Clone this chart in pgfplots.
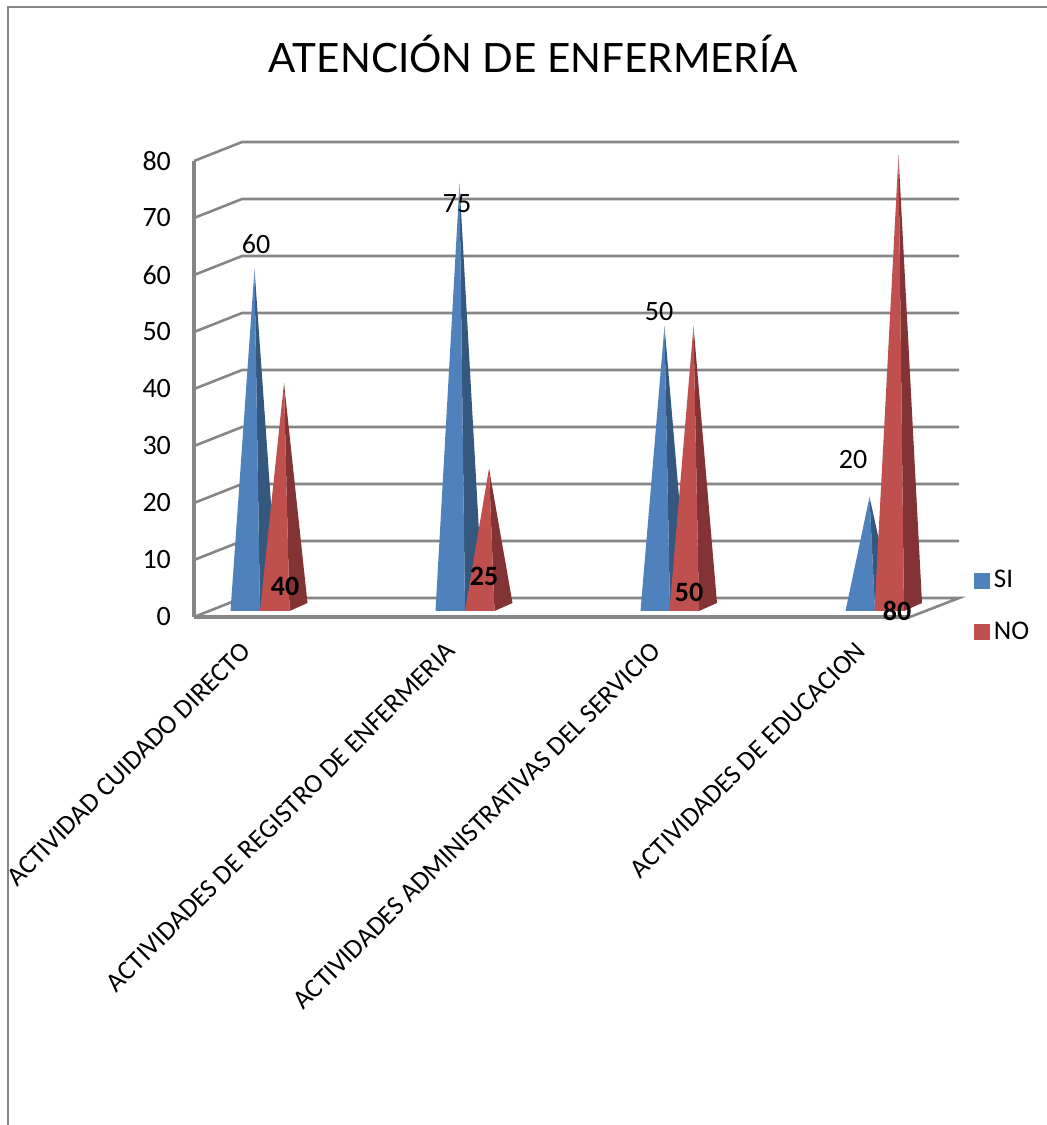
\documentclass[border=0pt]{standalone}
\usepackage{pgfplots}
\pgfplotsset{compat=1.18}
\usepackage{fontspec}
\setmainfont{Carlito}
\newfontfamily\titlefont{Lato}
\definecolor{wall}{HTML}{868686}
\definecolor{siF}{HTML}{4F81BD}
\definecolor{siS}{HTML}{35587F}
\definecolor{noF}{HTML}{C0504D}
\definecolor{noS}{HTML}{833333}

% One pyramid: front-left corner, apex height, front colour, side colour
\newcommand{\pyramid}[4]{%
  \pgfmathsetmacro{\xa}{#1}%
  \pgfmathsetmacro{\xb}{#1+29.5}%
  \pgfmathsetmacro{\xc}{#1+47.5}%
  \pgfmathsetmacro{\xt}{#1+24}%
  \edef\doplot{\noexpand\addplot[fill=#4,draw=none,forget plot] coordinates {(\xb,0) (\xc,1.4) (\xt,#2) (\xb,0)};
    \noexpand\addplot[fill=#3,draw=none,forget plot] coordinates {(\xa,0) (\xb,0) (\xt,#2) (\xa,0)};}%
  \doplot
}

\begin{document}
\begin{tikzpicture}
\useasboundingbox (0,0) rectangle (523.5pt,562.5pt);

% Walls, floor and value axis
\begin{axis}[
  at={(97pt,254pt)}, anchor=south west,
  scale only axis, width=358pt, height=228pt,
  xmin=194, xmax=910, ymin=0, ymax=80,
  clip=false,
  axis y line*=left, axis x line*=bottom,
  axis line style={draw=wall, line width=1.6pt, -},
  major tick length=0pt,
  ytick={0,10,...,80},
  xtick={262,467,672,877},
  xticklabels={ACTIVIDAD CUIDADO DIRECTO,ACTIVIDADES DE REGISTRO DE ENFERMERIA,ACTIVIDADES ADMINISTRATIVAS DEL SERVICIO,ACTIVIDADES DE EDUCACION},
  x tick label style={rotate=45, anchor=north east, font=\fontsize{13.45}{13.45}\selectfont, inner sep=0pt, yshift=-0.2pt, xshift=-16pt},
  y tick label style={font=\fontsize{14}{14}\selectfont, xshift=-8pt},
  /pgf/number format/assume math mode=true,
  title={\titlefont ATENCIÓN DE ENFERMERÍA},
  title style={at={(0.4735,1.208)}, anchor=center, font=\fontsize{20.2}{20.2}\selectfont},
]
\addplot[draw=wall,line width=1.3pt,forget plot] coordinates {(194,0) (242,3.33) (959,3.33) (910,0)};
\addplot[draw=wall,line width=1.3pt,forget plot] coordinates {(194,10) (242,13.33) (959,13.33)};
\addplot[draw=wall,line width=1.3pt,forget plot] coordinates {(194,20) (242,23.33) (959,23.33)};
\addplot[draw=wall,line width=1.3pt,forget plot] coordinates {(194,30) (242,33.33) (959,33.33)};
\addplot[draw=wall,line width=1.3pt,forget plot] coordinates {(194,40) (242,43.33) (959,43.33)};
\addplot[draw=wall,line width=1.3pt,forget plot] coordinates {(194,50) (242,53.33) (959,53.33)};
\addplot[draw=wall,line width=1.3pt,forget plot] coordinates {(194,60) (242,63.33) (959,63.33)};
\addplot[draw=wall,line width=1.3pt,forget plot] coordinates {(194,70) (242,73.33) (959,73.33)};
\addplot[draw=wall,line width=1.3pt,forget plot] coordinates {(194,80) (242,83.33) (959,83.33)};
% Chart area border, top and left edges
\addplot[draw=wall,line width=1.1pt,forget plot] coordinates {(8,-90) (8,107) (1047,107)};
\end{axis}

% Pyramids: base on the floor, apex at the value
\begin{axis}[
  at={(97pt,257pt)}, anchor=south west,
  scale only axis, width=358pt, height=228pt,
  xmin=194, xmax=910, ymin=0, ymax=80,
  clip=false, hide axis,
  legend style={at={(1.089,0.010)}, anchor=west, draw=none, fill=none,
    font=\fontsize{13.5}{13.5}\selectfont, row sep=11.5pt, inner sep=0pt,
    cells={anchor=west}},
  legend image code/.code={\fill[#1] (0pt,-3.75pt) rectangle (7.5pt,3.75pt);},
]
\pyramid{230.5}{60}{siF}{siS}
\pyramid{260}{40}{noF}{noS}
\pyramid{435.5}{75}{siF}{siS}
\pyramid{465}{25}{noF}{noS}
\pyramid{640.5}{50}{siF}{siS}
\pyramid{669.5}{50}{noF}{noS}
\pyramid{845.5}{20}{siF}{siS}
\pyramid{874.5}{80}{noF}{noS}
\addlegendimage{siF,fill=siF}
\addlegendentry{SI}
\addlegendimage{noF,fill=noF}
\addlegendentry{NO}
\node[font=\fontsize{14}{14}\selectfont] at (axis cs:256,64.3) {60};
\node[font=\fontsize{14}{14}\selectfont] at (axis cs:457,71.5) {75};
\node[font=\fontsize{14}{14}\selectfont] at (axis cs:659,52.6) {50};
\node[font=\fontsize{14}{14}\selectfont] at (axis cs:853,26.6) {20};
\node[font=\bfseries\fontsize{14}{14}\selectfont] at (axis cs:285,4.4) {40};
\node[font=\bfseries\fontsize{14}{14}\selectfont] at (axis cs:484,6) {25};
\node[font=\bfseries\fontsize{14}{14}\selectfont] at (axis cs:689,3.3) {50};
\node[font=\bfseries\fontsize{14}{14}\selectfont] at (axis cs:897,0) {80};
\end{axis}
\end{tikzpicture}
\end{document}
